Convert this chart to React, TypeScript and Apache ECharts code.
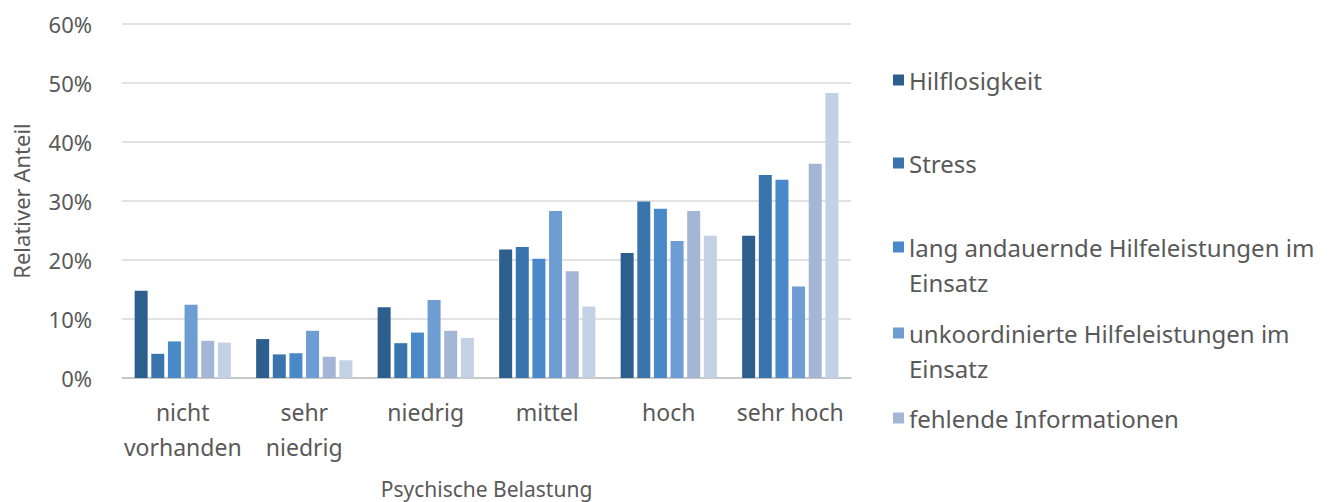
import React, { useEffect, useRef } from "react";
import * as echarts from "echarts";

const categories = ["nicht\nvorhanden", "sehr\nniedrig", "niedrig", "mittel", "hoch", "sehr hoch"];
const seriesNames = [
  "Hilflosigkeit",
  "Stress",
  "lang andauernde Hilfeleistungen im\nEinsatz",
  "unkoordinierte Hilfeleistungen im\nEinsatz",
  "fehlende Informationen",
  "weitere",
];
const hilflosigkeit = [14.8, 6.6, 12.0, 21.8, 21.2, 24.1];
const stress = [4.1, 4.0, 5.9, 22.2, 29.9, 34.4];
const langAndauernd = [6.2, 4.2, 7.7, 20.2, 28.7, 33.6];
const unkoordiniert = [12.4, 8.0, 13.2, 28.3, 23.2, 15.5];
const fehlendeInfo = [6.3, 3.6, 8.0, 18.1, 28.3, 36.3];
const weitere = [6.0, 3.0, 6.8, 12.1, 24.1, 48.3];
const allValues = [hilflosigkeit, stress, langAndauernd, unkoordiniert, fehlendeInfo, weitere];
const colors = ["#2d5f8e", "#3a74ad", "#4a89c9", "#6d9dd3", "#a3b6d6", "#c3d1e4"];
const legendCenters = [80, 163, 247, 333, 418];
const legendMultiline = [false, false, true, true, false];

export default function App() {
  const ref = useRef<HTMLDivElement>(null);
  useEffect(() => {
    if (!ref.current) return;
    const chart = echarts.init(ref.current, null, { renderer: "svg" });
    const font = "'Noto Sans', sans-serif";
    const LH = 35;
    const legends = legendCenters.map((c, i) => ({
      show: true,
      left: 893,
      top: legendMultiline[i] ? c - 1.5 * LH : c - LH / 2,
      orient: "vertical",
      padding: 0,
      itemWidth: 11,
      itemHeight: 11,
      itemGap: 0,
      icon: "rect",
      data: [seriesNames[i]],
      formatter: (name: string) => (legendMultiline[i] ? "\n" + name : name),
      textStyle: {
        fontFamily: font,
        fontSize: 24,
        color: "#595959",
        lineHeight: LH,
      },
    }));
    chart.setOption({
      animation: false,
      color: colors,
      legend: legends,
      grid: {
        left: 122,
        right: 482,
        top: 24,
        bottom: 124,
        containLabel: false,
        outerBoundsMode: "none",
      },
      xAxis: {
        type: "category",
        data: categories,
        name: "Psychische Belastung",
        nameLocation: "middle",
        nameGap: 100,
        nameTextStyle: { fontFamily: font, fontSize: 21, lineHeight: 21, color: "#595959" },
        axisLine: { lineStyle: { color: "#bfbfbf", width: 1.5 } },
        axisTick: { show: false },
        axisLabel: {
          fontFamily: font,
          fontSize: 23,
          color: "#595959",
          lineHeight: LH,
          margin: 16,
          interval: 0,
        },
      },
      yAxis: {
        type: "value",
        min: 0,
        max: 60,
        interval: 10,
        name: "Relativer Anteil",
        nameLocation: "middle",
        nameGap: 90,
        nameTextStyle: { fontFamily: font, fontSize: 22, color: "#595959" },
        axisLabel: {
          formatter: "{value}%",
          fontFamily: font,
          fontSize: 22,
          color: "#595959",
          margin: 30,
        },
        splitLine: { lineStyle: { color: "#d9d9d9", width: 1.5 } },
        axisLine: { show: false },
        axisTick: { show: false },
      },
      series: allValues.map((vals, i) => ({
        type: "bar",
        name: seriesNames[i],
        data: vals,
        barWidth: 13,
        barGap: "28%",
        itemStyle: { color: colors[i] },
      })),
    });
    return () => chart.dispose();
  }, []);
  return (
    <div
      ref={ref}
      style={{ position: "absolute", left: 0, top: 0, width: 1333, height: 502 }}
    />
  );
}
